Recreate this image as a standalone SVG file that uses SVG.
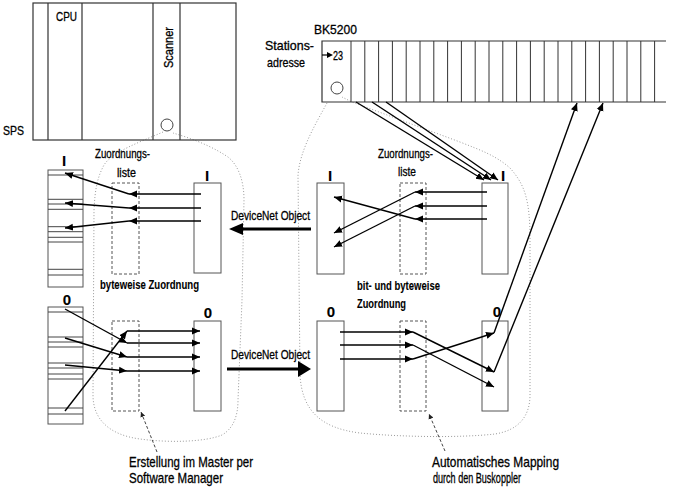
<svg xmlns="http://www.w3.org/2000/svg" width="679" height="488" viewBox="0 0 679 488">
<style>
text{font-family:"Liberation Sans",Arial,sans-serif;font-size:13px;fill:#000;stroke:#000;stroke-width:0.3}
.big{font-size:14.5px}
.bold{font-weight:bold;stroke-width:0.1}
.lab{font-size:15px;text-anchor:middle;font-weight:bold;stroke-width:0.1}
.box{fill:#fff;stroke:#555;stroke-width:1}
.frame{fill:none;stroke:#333;stroke-width:1.2}
.dash{fill:none;stroke:#555;stroke-width:1;stroke-dasharray:3,2}
.dot{fill:none;stroke:#9a9a9a;stroke-width:1;stroke-dasharray:1,2}
.arr{fill:none;stroke:#000;stroke-width:1.4;marker-end:url(#ah)}
.ptr{fill:none;stroke:#444;stroke-width:1;stroke-dasharray:3,2;marker-end:url(#ahs)}
.fat{stroke:#000;stroke-width:3}
</style>
<defs>
<marker id="ah" markerUnits="userSpaceOnUse" markerWidth="9" markerHeight="8" refX="8" refY="4" orient="auto"><path d="M0,0.5 L8,4 L0,7.5 z" fill="#000"/></marker>
<marker id="ahs" markerUnits="userSpaceOnUse" markerWidth="6" markerHeight="6" refX="5" refY="3" orient="auto"><path d="M0,0.5 L5,3 L0,5.5 z" fill="#222"/></marker>
</defs>

<g id="regions">
<path class="dot" d="M163,132 C140,142 112,152 104,165 C97,178 95,190 94,210 L93,395 C93,420 110,435 140,439 C170,443 205,442 222,435 C234,428 238,415 238,400 L242,300 L244,200 C244,180 238,165 228,157 C210,145 190,138 173,133"/>
<path class="dot" d="M327,103 C315,125 300,150 298,175 L300,375 C302,410 320,428 360,433 C400,437 460,438 495,434 C520,430 530,415 530,395 L530,240 C530,200 525,185 510,168 C495,155 480,150 460,142 L352,102 L342,97"/>
</g>

<g id="sps">
<rect class="frame" x="33" y="3" width="203" height="137"/>
<path class="frame" d="M48,3 V140 M82,3 V140 M153,3 V140 M180,3 V140"/>
<circle cx="167" cy="125" r="6" fill="none" stroke="#444"/>
<text x="56" y="21" textLength="21" lengthAdjust="spacingAndGlyphs">CPU</text>
<text x="173" y="68" transform="rotate(-90 173 68)" textLength="41" lengthAdjust="spacingAndGlyphs">Scanner</text>
<text x="3" y="135" textLength="21" lengthAdjust="spacingAndGlyphs">SPS</text>
</g>

<g id="bk5200">
<path class="frame" d="M666,41 H322 V102 H666"/>
<path fill="none" stroke="#333" stroke-width="1" d="M351,41V102 M364.8,41V102 M378.6,41V102 M392.4,41V102 M406.2,41V102 M420,41V102 M433.8,41V102 M447.6,41V102 M461.4,41V102 M475.2,41V102 M489,41V102 M502.8,41V102 M516.6,41V102 M530.4,41V102 M544.2,41V102 M558,41V102 M571.8,41V102 M585.6,41V102 M599.4,41V102 M613.2,41V102 M627,41V102 M640.8,41V102 M654.6,41V102"/>
<circle cx="337" cy="88" r="6" fill="none" stroke="#444"/>
<text x="314" y="34" textLength="43" lengthAdjust="spacingAndGlyphs">BK5200</text>
<text x="265" y="50" textLength="49" lengthAdjust="spacingAndGlyphs">Stations-</text>
<text x="267" y="67" textLength="38" lengthAdjust="spacingAndGlyphs">adresse</text>
<text x="333" y="60" textLength="10" lengthAdjust="spacingAndGlyphs">23</text>
<path fill="none" stroke="#000" stroke-width="1.2" d="M322,55 H328"/>
<path d="M327,52 L333,55 L327,58 z" fill="#000"/>
</g>

<g id="left-in-stack">
<rect class="box" x="48" y="170" width="35" height="117"/>
<path fill="none" stroke="#444" d="M48,175H83 M48,199.3H83 M48,204H83 M48,209.3H83 M48,226.7H83 M48,231.7H83 M48,237.3H83 M48,242H83 M48,269.3H83 M48,275H83"/>
<text class="lab" x="64" y="166">I</text>
</g>
<g id="left-in-list"><rect class="dash" x="112" y="183" width="27" height="91"/>
<text x="95" y="158" textLength="55" lengthAdjust="spacingAndGlyphs">Zuordnungs-</text>
<text x="117" y="177" textLength="19" lengthAdjust="spacingAndGlyphs">liste</text></g>
<g id="left-in-box"><rect class="box" x="194" y="183" width="27" height="90"/><text class="lab" x="207" y="181">I</text></g>
<g id="left-caption"><text class="bold" x="100" y="289" textLength="99" lengthAdjust="spacingAndGlyphs">byteweise Zuordnung</text></g>

<g id="left-out-stack">
<rect class="box" x="48" y="307" width="35" height="117"/>
<path fill="none" stroke="#444" d="M48,312H83 M48,337H83 M48,342H83 M48,347H83 M48,363H83 M48,368H83 M48,374H83 M48,379H83 M48,408H83 M48,414H83"/>
<text class="lab" x="67" y="305">0</text>
</g>
<g id="left-out-list"><rect class="dash" x="112" y="321" width="27" height="90"/></g>
<g id="left-out-box"><rect class="box" x="194" y="321" width="27" height="90"/><text class="lab" x="208" y="318">0</text></g>

<g id="right-in-left"><rect class="box" x="317" y="183" width="27" height="91"/><text class="lab" x="330" y="181">I</text></g>
<g id="right-in-list"><rect class="dash" x="400" y="183" width="26" height="91"/>
<text x="378" y="158" textLength="55" lengthAdjust="spacingAndGlyphs">Zuordnungs-</text>
<text x="398" y="176" textLength="18" lengthAdjust="spacingAndGlyphs">liste</text></g>
<g id="right-in-right"><rect class="box" x="482" y="183" width="26" height="91"/><text class="lab" x="503" y="181">I</text></g>
<g id="right-caption"><text class="bold" x="357" y="290" textLength="83" lengthAdjust="spacingAndGlyphs">bit- und byteweise</text>
<text class="bold" x="357" y="308" textLength="49" lengthAdjust="spacingAndGlyphs">Zuordnung</text></g>

<g id="right-out-left"><rect class="box" x="317" y="321" width="27" height="90"/><text class="lab" x="331" y="317">0</text></g>
<g id="right-out-list"><rect class="dash" x="400" y="321" width="26" height="90"/></g>
<g id="right-out-right"><rect class="box" x="482" y="321" width="26" height="90"/><text class="lab" x="497" y="317">0</text></g>

<g id="notes">
<text class="big" x="129" y="467" textLength="124" lengthAdjust="spacingAndGlyphs">Erstellung im Master per</text>
<text class="big" x="129" y="483" textLength="94" lengthAdjust="spacingAndGlyphs">Software Manager</text>
<text class="big" x="432" y="467" textLength="127" lengthAdjust="spacingAndGlyphs">Automatisches Mapping</text>
<text class="big" x="433" y="483" textLength="88" lengthAdjust="spacingAndGlyphs">durch den Buskoppler</text>
</g>

<g id="connectors">
<path class="arr" d="M356,102 L484,180"/>
<path class="arr" d="M372,102 L491,180"/>
<path class="arr" d="M386,102 L498,180"/>
<path class="arr" d="M487,192 H415"/>
<path class="arr" d="M487,206 H415"/>
<path class="arr" d="M487,219 H415"/>
<path class="arr" d="M415,192 L334,233"/>
<path class="arr" d="M415,206 L334,247"/>
<path class="arr" d="M415,219 L334,197"/>
<path class="arr" d="M201,194 H129"/>
<path class="arr" d="M201,208 H129"/>
<path class="arr" d="M201,221 H129"/>
<path class="arr" d="M129,194 L65,173"/>
<path class="arr" d="M129,208 L65,203"/>
<path class="arr" d="M129,221 L65,228"/>
<path class="arr" d="M65,309 L127,343"/>
<path class="arr" d="M65,338 L127,357"/>
<path class="arr" d="M65,365 L127,371"/>
<path class="arr" d="M65,411 L127,331"/>
<path class="arr" d="M127,331 H200"/>
<path class="arr" d="M127,343 H200"/>
<path class="arr" d="M127,357 H200"/>
<path class="arr" d="M127,371 H200"/>
<path class="arr" d="M340,332 H413"/>
<path class="arr" d="M340,345 H413"/>
<path class="arr" d="M340,359 H413"/>
<path class="arr" d="M413,332 L494,372"/>
<path class="arr" d="M413,345 L494,387"/>
<path class="arr" d="M413,359 L494,333"/>
<path class="arr" d="M494,333 L577,103"/>
<path class="arr" d="M494,372 L603,103"/>
<path class="ptr" d="M157,452 L141,412"/>
<path class="ptr" d="M445,451 L429,414"/>
<line class="fat" x1="311" y1="229" x2="242" y2="229"/>
<path d="M229,229 L243,223 L243,235 z" fill="#000"/>
<text x="231" y="220" textLength="79" lengthAdjust="spacingAndGlyphs">DeviceNet Object</text>
<line class="fat" x1="227" y1="369" x2="299" y2="369"/>
<path d="M311,369 L298,361 L298,377 z" fill="#000"/>
<text x="231" y="359" textLength="79" lengthAdjust="spacingAndGlyphs">DeviceNet Object</text>
</g>
</svg>
